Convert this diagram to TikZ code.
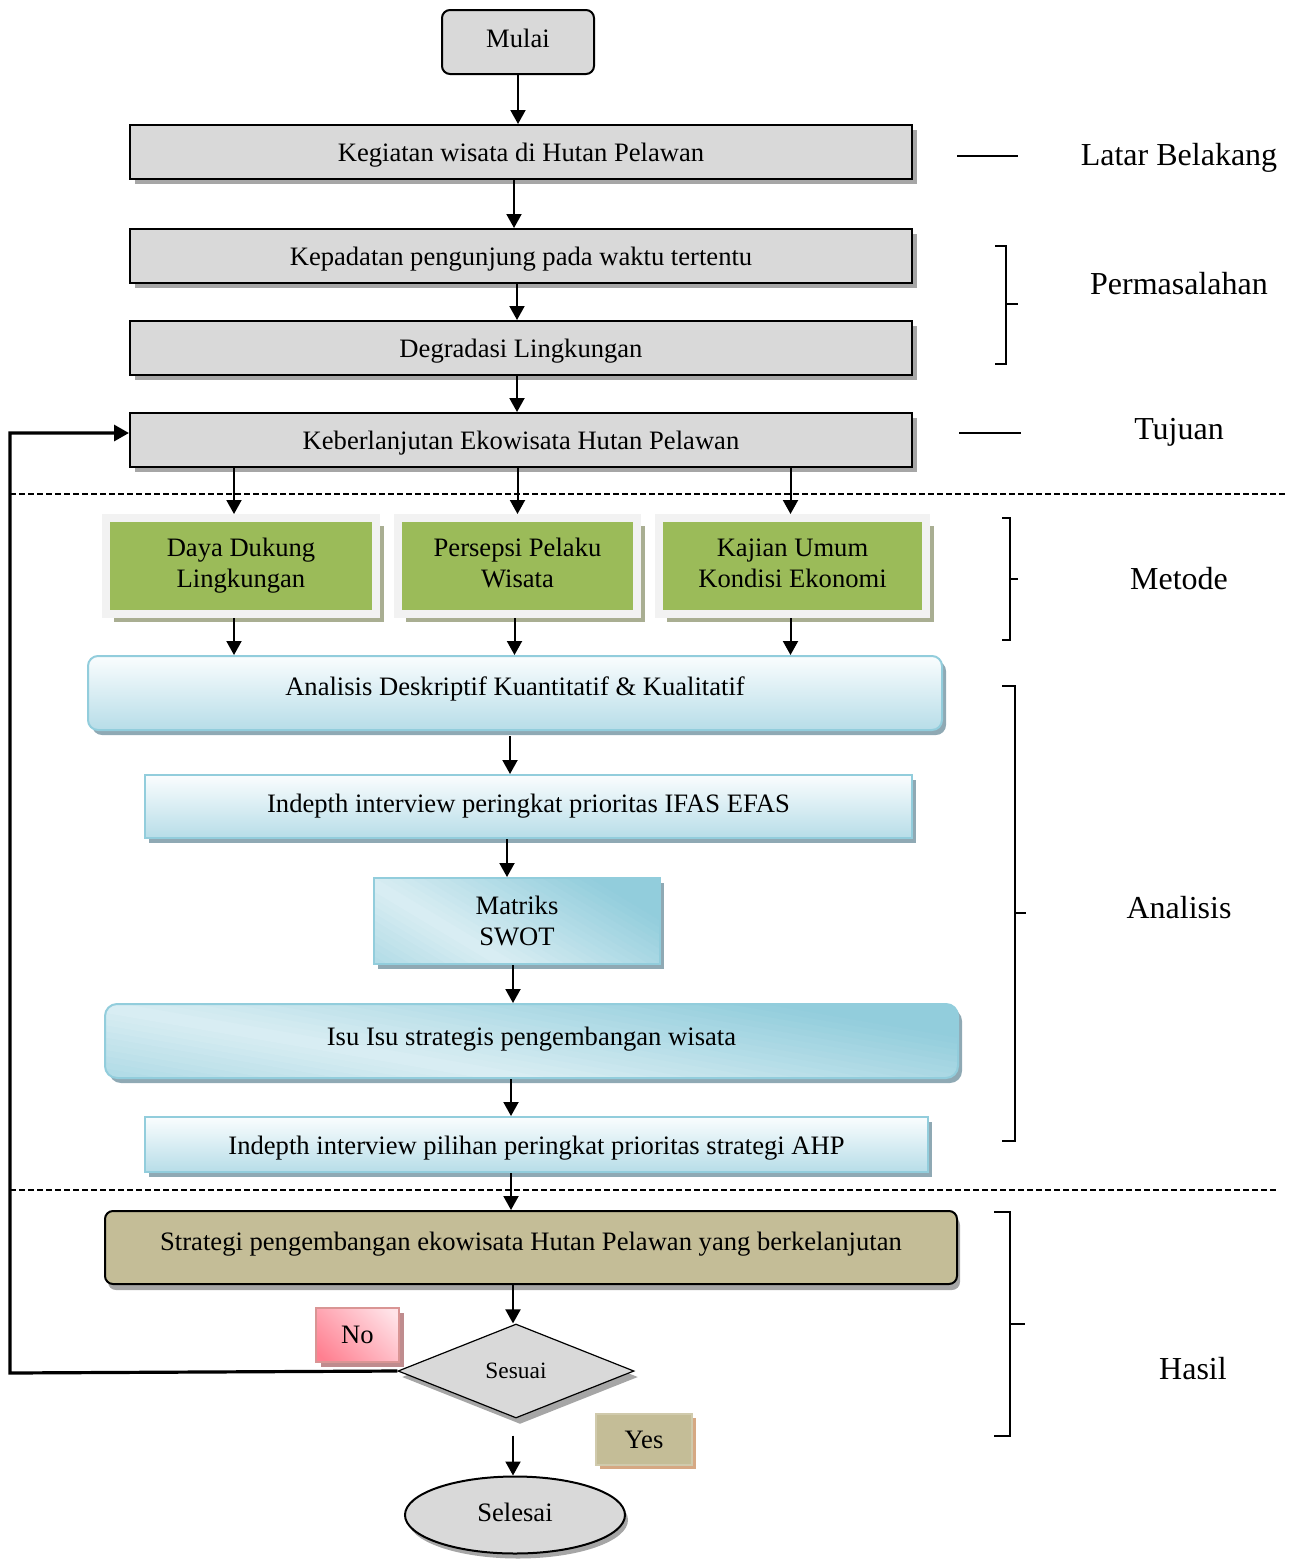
\documentclass[tikz,border=0pt]{standalone}
\usepackage{fontspec}
\setmainfont{Liberation Serif}
\usetikzlibrary{shapes.geometric,arrows.meta,shadows,calc}
\definecolor{boxgray}{HTML}{D9D9D9}
\definecolor{shgray}{HTML}{A6A6A6}
\definecolor{olivegreen}{HTML}{9BBB59}
\definecolor{framegray}{HTML}{F2F2F2}
\definecolor{oliveshadow}{HTML}{A9AE92}
\definecolor{bluebd}{HTML}{92CDDC}
\definecolor{bluelt}{HTML}{DAEEF3}
\definecolor{bluebot}{HTML}{B7DDE8}
\definecolor{bluetop}{HTML}{FAFDFE}
\definecolor{blueshadow}{HTML}{8FA9B4}
\definecolor{tanfill}{HTML}{C4BD97}
\definecolor{yesshadow}{HTML}{D6A883}
\definecolor{pinkd}{HTML}{FF7F90}
\definecolor{pinkl}{HTML}{FFE3E8}
\definecolor{pinkbd}{HTML}{D99594}
\definecolor{pinkshadow}{HTML}{BF8C8E}
\pgfdeclarehorizontalshading{pinkshade}{100bp}{color(0bp)=(pinkd); color(20bp)=(pinkd); color(80bp)=(pinkl); color(100bp)=(pinkl)}
% diagonal gradient (light along the top-left/bottom-right diagonal, dark at the other corners)
\newcommand\mydiagfill[2]{%
  \begin{scope}[shift={(path picture bounding box.center)}]
  \foreach \k in {-32,...,31}{%
    \pgfmathsetmacro\sa{\k/24}%
    \pgfmathsetmacro\sb{(\k+1.4)/24}%
    \pgfmathsetmacro\pc{min(100,abs((\k+0.5)/24)/0.8*100)}%
    \fill[bluebd!\pc!bluelt] ({#1*(\sa-1)*1pt},{2*#2*1pt}) -- ({#1*(\sb-1)*1pt},{2*#2*1pt}) -- ({#1*(\sb+1)*1pt},{-2*#2*1pt}) -- ({#1*(\sa+1)*1pt},{-2*#2*1pt}) -- cycle;
  }%
  \end{scope}}
\tikzset{
  every node/.style={font=\fontsize{13.3}{15.5}\selectfont, inner sep=0pt},
  arr/.style={-{Triangle[length=7pt,width=7.5pt]}, line width=1pt},
  looparr/.style={-{Triangle[length=7.5pt,width=8pt]}, line width=1.6pt},
  sepline/.style={line width=0.6pt, dash pattern=on 3pt off 1.5pt},
  brk/.style={line width=0.8pt},
  lab/.style={font=\fontsize{16}{19}\selectfont, text depth=0pt},
  startbox/.style={draw=black, line width=1pt, fill=boxgray, rounded corners=4pt, minimum width=76pt, minimum height=32pt, text depth=4pt},
  graybox/.style={draw=black, line width=1pt, fill=boxgray, minimum width=391pt, minimum height=27pt,
    text height=12pt, text depth=2.9pt,
    drop shadow={shadow xshift=2.5pt, shadow yshift=-2.5pt, fill=shgray, opacity=1}},
  greenbox/.style={draw=framegray, line width=4pt, fill=olivegreen, minimum height=48pt, align=center,
    drop shadow={shadow xshift=4pt, shadow yshift=-4pt, fill=oliveshadow, opacity=1}},
  bluegrad/.style={draw=bluebd, line width=1pt, top color=bluetop, bottom color=bluebot,
    drop shadow={shadow xshift=2pt, shadow yshift=-2.5pt, fill=blueshadow, opacity=1}},
  bluediag/.style n args={2}{draw=bluebd, line width=1pt, align=center, fill=bluebd,
    path picture={\mydiagfill{#1}{#2}},
    drop shadow={shadow xshift=2pt, shadow yshift=-2.5pt, fill=blueshadow, opacity=1}},
  tanbox/.style={draw=black, line width=1pt, fill=tanfill,
    drop shadow={shadow xshift=1.5pt, shadow yshift=-3pt, fill=shgray, opacity=1}},
  decision/.style={diamond, aspect=2.5, draw=black, line width=0.6pt, fill=boxgray, minimum width=118pt, minimum height=47pt,
    font=\fontsize{11.7}{14}\selectfont,
    drop shadow={shadow xshift=2pt, shadow yshift=-3pt, fill=shgray, opacity=1}},
  nobox/.style={draw=pinkbd, line width=1pt, shading=pinkshade, shading angle=45, minimum width=41.5pt, minimum height=27pt,
    drop shadow={shadow xshift=2.5pt, shadow yshift=-2.5pt, fill=pinkshadow, opacity=1}},
  yesbox/.style={draw=tanfill!80!white, line width=0.6pt, fill=tanfill, minimum width=48pt, minimum height=25.5pt,
    drop shadow={shadow xshift=2pt, shadow yshift=-2pt, fill=yesshadow, opacity=1}},
  endbox/.style={ellipse, draw=black, line width=1pt, fill=boxgray, minimum width=110pt, minimum height=38.5pt, text depth=3pt,
    drop shadow={shadow xshift=1.5pt, shadow yshift=-2.5pt, fill=shgray, opacity=1}},
}
\begin{document}
\begin{tikzpicture}[x=0.5pt, y=-0.5pt]
\useasboundingbox (0,0) rectangle (1290,1559);

% separators
\draw[sepline] (10,494) -- (1286,494);
\draw[sepline] (10,1190) -- (1276,1190);

% main chain
\node[startbox] (mulai) at (518,42) {Mulai};
\node[graybox] (b1) at (521,152) {Kegiatan wisata di Hutan Pelawan};
\node[graybox] (b2) at (521,256) {Kepadatan pengunjung pada waktu tertentu};
\node[graybox] (b3) at (521,348) {Degradasi Lingkungan};
\node[graybox] (b4) at (521,440) {Keberlanjutan Ekowisata Hutan Pelawan};

\node[greenbox, minimum width=135pt] (g1) at (241,566) {\strut Daya Dukung\\Lingkungan\strut};
\node[greenbox, minimum width=119.5pt] (g2) at (517.5,566) {\strut Persepsi Pelaku\\Wisata\strut};
\node[greenbox, minimum width=133.5pt] (g3) at (792.5,566) {\strut Kajian Umum\\Kondisi Ekonomi\strut};

\node[bluegrad, rounded corners=5pt, minimum width=427pt, minimum height=37pt, text depth=7pt] (ana) at (515,693) {Analisis Deskriptif Kuantitatif \& Kualitatif};
\node[bluegrad, minimum width=383.5pt, minimum height=31.5pt] (ifas) at (528.5,806.5) {Indepth interview peringkat prioritas IFAS EFAS};
\node[bluediag={143}{43}, minimum width=143pt, minimum height=43pt] (mat) at (517,921) {Matriks\\SWOT};
\node[bluediag={426.5}{37}, rounded corners=6pt, minimum width=426.5pt, minimum height=37pt, text depth=5pt] (isu) at (531.5,1041) {Isu Isu strategis pengembangan wisata};
\node[bluegrad, minimum width=391.5pt, minimum height=27.5pt, text height=13pt] (ahp) at (536.5,1144.5) {Indepth interview pilihan peringkat prioritas strategi AHP};
\node[tanbox, rounded corners=4pt, minimum width=426pt, minimum height=36.5pt, text depth=6pt] (str) at (531,1247.5) {Strategi pengembangan ekowisata Hutan Pelawan yang berkelanjutan};

\node[decision] (dia) at (516,1371) {Sesuai};
\node[nobox] (no) at (357.5,1335) {No};
\node[yesbox] (yes) at (644,1439.5) {Yes};
\node[endbox] (sel) at (515,1515) {Selesai};

% connectors
\draw[arr] (mulai.south) -- (mulai.south |- b1.north);
\draw[arr] ([xshift=-3.5pt]b1.south) -- ([xshift=-3.5pt]b2.north);
\draw[arr] ([xshift=-2pt]b2.south) -- ([xshift=-2pt]b3.north);
\draw[arr] ([xshift=-2pt]b3.south) -- ([xshift=-2pt]b4.north);
\draw[arr] ([xshift=-3.5pt]g1.north |- b4.south) -- ([xshift=-3.5pt]g1.north);
\draw[arr] (g2.north |- b4.south) -- (g2.north);
\draw[arr] ([xshift=-1pt]g3.north |- b4.south) -- ([xshift=-1pt]g3.north);
\draw[arr] ([xshift=-3.5pt]g1.south) -- ([xshift=-3.5pt]g1.south |- ana.north);
\draw[arr] ([xshift=-1.5pt]g2.south) -- ([xshift=-1.5pt]g2.south |- ana.north);
\draw[arr] ([xshift=-1pt]g3.south) -- ([xshift=-1pt]g3.south |- ana.north);
\draw[arr, shorten <=2.5pt] ([xshift=-2.5pt]ana.south) -- ([xshift=-2.5pt]ana.south |- ifas.north);
\draw[arr] ([xshift=-5pt]mat.north |- ifas.south) -- ([xshift=-5pt]mat.north);
\draw[arr] ([xshift=-2pt]mat.south) -- ([xshift=-2pt]mat.south |- isu.north);
\draw[arr] ([xshift=-3pt]mat.south |- isu.south) -- ([xshift=-3pt]mat.south |- ahp.north);
\draw[arr] ([xshift=-3pt]mat.south |- ahp.south) -- ([xshift=-3pt]mat.south |- str.north);
\draw[arr] ([xshift=-1.5pt]dia.north |- str.south) -- ([xshift=-1.5pt]dia.north);
\draw[arr, shorten <=8.5pt] ([xshift=-1.5pt]dia.south) -- ([xshift=-1pt]sel.north);

\coordinate (lp1) at (10,1373);
\coordinate (lp2) at (10,433);
\draw[looparr] (dia.west) -- (lp1) -- (lp2) -- (b4.west |- lp2);

% right side labels
\node[lab] (lLB) at (1179,154) {Latar Belakang};
\node[lab] (lP) at (1179,283) {Permasalahan};
\node[lab] (lT) at (1179,429) {Tujuan};
\node[lab] (lM) at (1179,578) {Metode};
\node[lab] (lA) at (1179,907) {Analisis};
\node[lab] (lH) at (1193,1368) {Hasil};

\draw[brk] (957,156) -- (1018,156);
\draw[brk] (959,433) -- (1021,433);
\draw[brk] (995,246) -- (1006,246) -- (1006,364) -- (995,364);
\draw[brk] (1006,304) -- (1018,304);
\draw[brk] (1002,518) -- (1010,518) -- (1010,640) -- (1002,640);
\draw[brk] (1010,579) -- (1018,579);
\draw[brk] (1002,686) -- (1015,686) -- (1015,1141) -- (1002,1141);
\draw[brk] (1015,913) -- (1026,913);
\draw[brk] (994,1212) -- (1010,1212) -- (1010,1436) -- (994,1436);
\draw[brk] (1010,1324) -- (1025,1324);
\end{tikzpicture}
\end{document}
